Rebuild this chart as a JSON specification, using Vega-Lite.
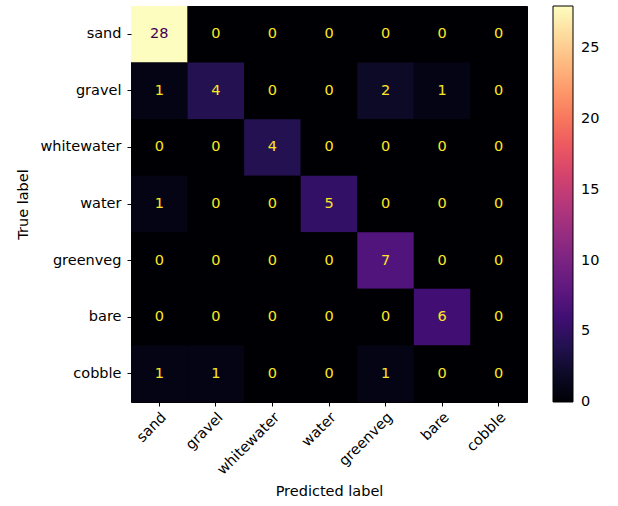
{
  "$schema": "https://vega.github.io/schema/vega-lite/v6.json",
  "width": 396,
  "height": 396,
  "autosize": "none",
  "padding": {"left": 131, "top": 6, "right": 91, "bottom": 104},
  "background": "white",
  "config": {
    "font": "DejaVu Sans",
    "view": {"stroke": "black", "strokeWidth": 1, "fill": "black"},
    "axis": {"labelFont": "DejaVu Sans", "titleFont": "DejaVu Sans", "labelFontSize": 14.5, "titleFontSize": 14.5, "titleFontWeight": "normal", "labelColor": "black", "titleColor": "black", "tickColor": "black", "tickSize": 4, "labelPadding": 6, "domain": false, "grid": false}
  },
  "data": {"values": [
    {"true": "sand", "pred": "sand", "count": 28},
    {"true": "sand", "pred": "gravel", "count": 0},
    {"true": "sand", "pred": "whitewater", "count": 0},
    {"true": "sand", "pred": "water", "count": 0},
    {"true": "sand", "pred": "greenveg", "count": 0},
    {"true": "sand", "pred": "bare", "count": 0},
    {"true": "sand", "pred": "cobble", "count": 0},
    {"true": "gravel", "pred": "sand", "count": 1},
    {"true": "gravel", "pred": "gravel", "count": 4},
    {"true": "gravel", "pred": "whitewater", "count": 0},
    {"true": "gravel", "pred": "water", "count": 0},
    {"true": "gravel", "pred": "greenveg", "count": 2},
    {"true": "gravel", "pred": "bare", "count": 1},
    {"true": "gravel", "pred": "cobble", "count": 0},
    {"true": "whitewater", "pred": "sand", "count": 0},
    {"true": "whitewater", "pred": "gravel", "count": 0},
    {"true": "whitewater", "pred": "whitewater", "count": 4},
    {"true": "whitewater", "pred": "water", "count": 0},
    {"true": "whitewater", "pred": "greenveg", "count": 0},
    {"true": "whitewater", "pred": "bare", "count": 0},
    {"true": "whitewater", "pred": "cobble", "count": 0},
    {"true": "water", "pred": "sand", "count": 1},
    {"true": "water", "pred": "gravel", "count": 0},
    {"true": "water", "pred": "whitewater", "count": 0},
    {"true": "water", "pred": "water", "count": 5},
    {"true": "water", "pred": "greenveg", "count": 0},
    {"true": "water", "pred": "bare", "count": 0},
    {"true": "water", "pred": "cobble", "count": 0},
    {"true": "greenveg", "pred": "sand", "count": 0},
    {"true": "greenveg", "pred": "gravel", "count": 0},
    {"true": "greenveg", "pred": "whitewater", "count": 0},
    {"true": "greenveg", "pred": "water", "count": 0},
    {"true": "greenveg", "pred": "greenveg", "count": 7},
    {"true": "greenveg", "pred": "bare", "count": 0},
    {"true": "greenveg", "pred": "cobble", "count": 0},
    {"true": "bare", "pred": "sand", "count": 0},
    {"true": "bare", "pred": "gravel", "count": 0},
    {"true": "bare", "pred": "whitewater", "count": 0},
    {"true": "bare", "pred": "water", "count": 0},
    {"true": "bare", "pred": "greenveg", "count": 0},
    {"true": "bare", "pred": "bare", "count": 6},
    {"true": "bare", "pred": "cobble", "count": 0},
    {"true": "cobble", "pred": "sand", "count": 1},
    {"true": "cobble", "pred": "gravel", "count": 1},
    {"true": "cobble", "pred": "whitewater", "count": 0},
    {"true": "cobble", "pred": "water", "count": 0},
    {"true": "cobble", "pred": "greenveg", "count": 1},
    {"true": "cobble", "pred": "bare", "count": 0},
    {"true": "cobble", "pred": "cobble", "count": 0}
  ]},
  "encoding": {
    "x": {"field": "pred", "type": "nominal", "sort": ["sand", "gravel", "whitewater", "water", "greenveg", "bare", "cobble"], "scale": {"paddingInner": 0, "paddingOuter": 0}, "axis": {"title": "Predicted label", "labelAngle": -45, "labelAlign": "right", "labelBaseline": "top", "labelPadding": 4, "titlePadding": 8}},
    "y": {"field": "true", "type": "nominal", "sort": ["sand", "gravel", "whitewater", "water", "greenveg", "bare", "cobble"], "scale": {"paddingInner": 0, "paddingOuter": 0}, "axis": {"title": "True label", "titlePadding": 10}}
  },
  "layer": [
    {
      "mark": {"type": "rect"},
      "encoding": {
        "color": {"field": "count", "type": "quantitative", "scale": {"scheme": "magma", "domain": [0, 28]}, "legend": {"title": null, "orient": "right", "offset": 26, "padding": 0, "gradientLength": 396, "gradientThickness": 20, "gradientStrokeColor": "black", "gradientStrokeWidth": 1, "values": [0, 5, 10, 15, 20, 25], "labelFontSize": 14.5, "labelFont": "DejaVu Sans", "labelColor": "black", "labelOffset": 8, "labelBaseline": "middle", "encode": {"labels": {"update": {"baseline": {"value": "middle"}}}}}}
      }
    },
    {
      "mark": {"type": "text", "fontSize": 14.5, "font": "DejaVu Sans"},
      "encoding": {
        "text": {"field": "count", "type": "quantitative"},
        "color": {"condition": {"test": "datum.count >= 14", "value": "#440154"}, "value": "#fde725"}
      }
    }
  ]
}
